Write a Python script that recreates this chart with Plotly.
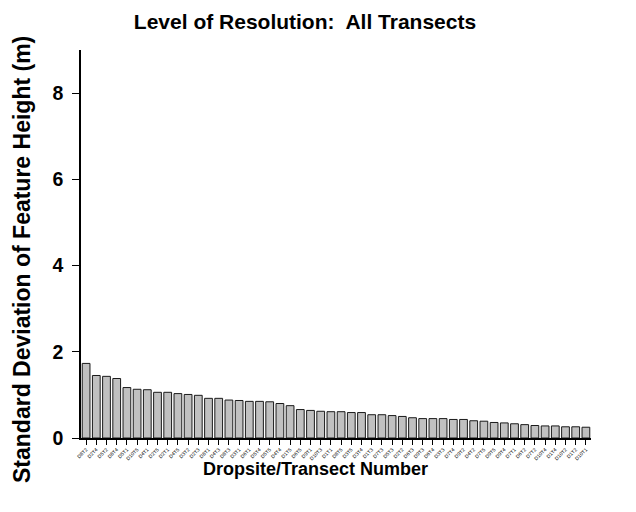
import plotly.graph_objects as go

labels = ["D8T2","D2T4","D5T2","D8T4","D5T1","D10T5","D4T1","D2T5","D2T1","D4T5",
          "D3T2","D2T3","D8T1","D4T3","D8T3","D3T1","D6T1","D5T4","D5T5","D4T4",
          "D1T5","D6T5","D9T1","D10T3","D1T1","D8T5","D3T5","D3T4","D1T3","D7T3",
          "D5T3","D2T2","D6T3","D9T3","D6T4","D3T3","D7T4","D9T2","D4T2","D7T5",
          "D9T5","D9T4","D7T1","D6T2","D7T2","D10T4","D1T4","D10T2","D1T2","D10T1"]
std_dev = [1.73,1.45,1.43,1.38,1.17,1.13,1.12,1.06,1.06,1.03,
           1.01,0.99,0.92,0.92,0.88,0.87,0.85,0.85,0.84,0.80,
           0.75,0.66,0.64,0.62,0.61,0.61,0.59,0.59,0.54,0.54,
           0.52,0.50,0.47,0.45,0.45,0.45,0.43,0.43,0.40,0.39,
           0.36,0.35,0.33,0.31,0.29,0.28,0.28,0.26,0.26,0.25]
y_ticks = [0, 2, 4, 6, 8]

font = "Liberation Sans, Arial, Helvetica, sans-serif"

# page body has an 8px margin; size the figure so it fills the 636x512 window
W, H = 628, 504
L, R, T, B = 73, 45, 42, 74
pw, ph = W - L - R, H - T - B

fig = go.Figure(go.Bar(
    x=labels, y=std_dev,
    marker=dict(color="#c0c0c0", line=dict(color="#1a1a1a", width=1)),
    width=0.76,
))

fig.update_layout(
    width=W, height=H,
    margin=dict(l=L, r=R, t=T, b=B),
    paper_bgcolor="white", plot_bgcolor="white",
    showlegend=False,
    title=dict(text="<b>Level of Resolution:  All Transects</b>",
               x=297 / W, xanchor="center", y=1 - 14 / H, yanchor="middle",
               font=dict(family=font, size=21, color="black")),
    font=dict(family=font, color="black"),
    annotations=[
        dict(text="<b>Standard Deviation of Feature Height (m)</b>",
             xref="paper", yref="paper", x=(14 - L) / pw, y=(H - B - 252) / ph,
             xanchor="center", yanchor="middle", textangle=-90, showarrow=False,
             font=dict(family=font, size=23, color="black")),
        dict(text="<b>Dropsite/Transect Number</b>",
             xref="paper", yref="paper", x=(307 - L) / pw, y=-(461 - (H - B)) / ph,
             xanchor="center", yanchor="middle", showarrow=False,
             font=dict(family=font, size=18, color="black")),
    ],
)
fig.update_xaxes(
    type="category", range=[-0.5, len(labels) - 0.5],
    tickangle=-45, tickfont=dict(size=5, family=font, color="black"),
    ticks="outside", ticklen=5, tickwidth=1, tickcolor="black",
    showline=True, linecolor="black", linewidth=1.5,
    showgrid=False,
)
fig.update_yaxes(
    range=[0, 9], tickvals=y_ticks, ticktext=[f"<b>{v}</b>" for v in y_ticks],
    tickfont=dict(size=19.5, family=font),
    ticks="outside", ticklen=7, tickwidth=1, tickcolor="black",
    ticklabelstandoff=5,
    showline=True, linecolor="black", linewidth=1.5,
    showgrid=False, zeroline=False,
)

fig.write_html("out.html")
